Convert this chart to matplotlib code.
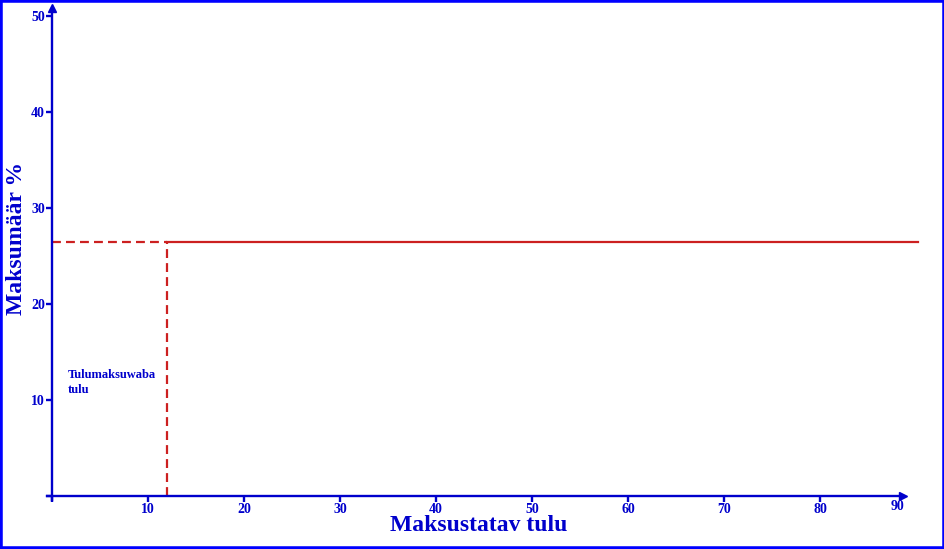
import matplotlib

matplotlib.use("Agg")
import matplotlib.pyplot as plt
from matplotlib.patches import Rectangle

# values
tax_free = 12        # tulumaksuvaba tulu (x)
rate = 26.5          # maksumäär %
x_end = 90.2         # where the rate line stops
x_ticks = [0, 10, 20, 30, 40, 50, 60, 70, 80]
x_tick_labels = ["", "10", "20", "30", "40", "50", "60", "70", "80"]
y_ticks = [0, 10, 20, 30, 40, 50]
y_tick_labels = ["", "10", "20", "30", "40", "50"]

BLUE = "#0000cc"
EDGE = "#0000ff"
RED = "#cc2020"
FONT = ["Liberation Serif", "DejaVu Serif"]

plt.rcParams["font.family"] = FONT
plt.rcParams["font.weight"] = "bold"

fig = plt.figure(figsize=(9.45, 5.49), dpi=100)
ax = fig.add_axes([0, 0, 1, 1])
ax.set_facecolor("white")

# pixel scale of the reference: 9.6 px per unit, origin at (52, 496)
ax.set_xlim(-52 / 9.6, (945 - 52) / 9.6)
ax.set_ylim((496 - 549) / 9.6, 496 / 9.6)

for s in ("top", "right"):
    ax.spines[s].set_visible(False)
for s in ("left", "bottom"):
    ax.spines[s].set_position(("data", 0))
    ax.spines[s].set_color(BLUE)
    ax.spines[s].set_linewidth(1.7)
ax.spines["bottom"].set_bounds(-0.5, 88.6)
ax.spines["left"].set_bounds(-0.4, 50.6)

# arrow heads
ax.plot(88.6, 0, marker=">", ms=6, color=BLUE, clip_on=False)
ax.plot(0, 50.8, marker="^", ms=6, color=BLUE, clip_on=False)

ax.set_xticks(x_ticks)
ax.set_xticklabels(x_tick_labels)
ax.set_yticks(y_ticks)
ax.set_yticklabels(y_tick_labels)
ax.tick_params(direction="out", length=4, width=1.7, colors=BLUE,
               labelsize=10, pad=1)
ax.text(88.1, -0.4, "90", color=BLUE, fontsize=10, ha="center", va="top")

# rate line and the tax-free guides
ax.plot([tax_free, x_end], [rate, rate], color=RED, lw=1.6)
ax.plot([0, tax_free], [rate, rate], color=RED, lw=1.6, dashes=(4, 2.3))
ax.plot([tax_free, tax_free], [0, rate], color=RED, lw=1.6, dashes=(4, 2.3))

ax.text(1.6, 13.2, "Tulumaksuwaba\ntulu", color=BLUE, fontsize=9,
        ha="left", va="top", linespacing=1.3)

ax.text(44.4, -3.1, "Maksustatav tulu", color=BLUE, fontsize=17,
        ha="center", va="center")
ax.text(-3.65, 26.8, "Maksumäär %", color=BLUE, fontsize=17,
        ha="center", va="center", rotation=90)

fig.patches.append(Rectangle((0, 0), 1, 1, transform=fig.transFigure,
                             fill=False, edgecolor=EDGE, lw=4))

fig.savefig("out.png", dpi=100)
